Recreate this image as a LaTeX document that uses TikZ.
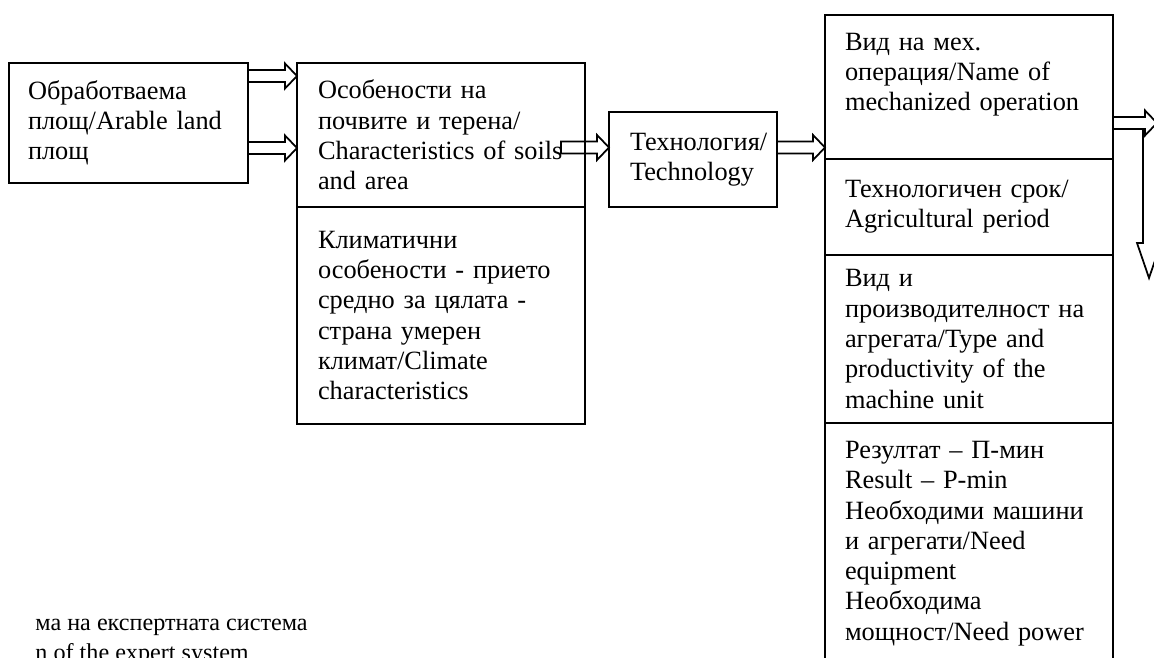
\documentclass[tikz,border=0pt]{standalone}
\usepackage{fontspec}
\setmainfont{Liberation Serif}
\usetikzlibrary{positioning}
\newdimen\pxu
\pxu=0.016cm

\begin{document}
\begin{tikzpicture}[
        x = 0.016cm, y = -0.016cm,
        Part/.style = {rectangle, draw = black, thick, outer sep = 0pt, inner ysep = 0pt, align = left, font = \fontsize{12}{13.8}\selectfont},
        % 
        Arrow/.style = {draw = black, thick, to path = {([yshift = 6\pxu]\tikztostart) -- ([xshift = -12\pxu, yshift = 6\pxu]\tikztotarget) -- ([xshift = -12\pxu, yshift = 12.5\pxu]\tikztotarget) -- (\tikztotarget) -- ([xshift = -12\pxu, yshift = -12.5\pxu]\tikztotarget) -- ([xshift = -12\pxu, yshift = -6\pxu]\tikztotarget) -- ([yshift = -6\pxu]\tikztostart) -- cycle}},
        % 
        DownArrow/.style = {draw = black, thick, to path = {([xshift = -6\pxu]\tikztostart) -- ([xshift = -6\pxu, yshift = 35\pxu]\tikztotarget) -- ([xshift = -12\pxu, yshift = 35\pxu]\tikztotarget) -- (\tikztotarget) -- ([xshift = 12\pxu, yshift = 35\pxu]\tikztotarget) -- ([xshift = 6\pxu, yshift = 35\pxu]\tikztotarget) -- ([xshift = 6\pxu]\tikztostart)}},
        % 
        Caption/.style = {inner sep = 0pt, align = left, font = \fontsize{11}{13.6}\selectfont},
    ]
        \useasboundingbox (0,0) rectangle (1154,658);
        \clip (0,0) rectangle (1154,658);

        % Arable land
        \node[Part, anchor = north west, text width = 201\pxu, inner xsep = 19\pxu, minimum height = 120\pxu] (Arable) at (9,63) {Обработваема\\площ/Arable land\\площ};

        % Soils and climate
        \node[Part, anchor = north west, text width = 246\pxu, inner xsep = 21\pxu, minimum height = 144\pxu] (Soils) at (297,63) {Особености на\\почвите и терена/\\Characteristics of soils\\and area};
        \node[Part, text width = 246\pxu, inner xsep = 21\pxu, minimum height = 217\pxu] (Climate) [below = 0pt of Soils] {Климатични\\особености - прието\\средно за цялата -\\страна умерен\\климат/Climate\\characteristics};

        % Technology
        \node[Part, anchor = north west, text width = 126\pxu, inner xsep = 21\pxu, minimum height = 95\pxu] (Tech) at (609,112) {Технология/\\Technology};

        % Operation
        \node[Part, anchor = north west, text width = 248\pxu, inner xsep = 20\pxu, minimum height = 144\pxu] (Mech) at (825,15) {Вид на мех.\\операция/Name of\\mechanized operation\\\mbox{}};
        \node[Part, text width = 248\pxu, inner xsep = 20\pxu, minimum height = 96\pxu] (Period) [below = 0pt of Mech] {Технологичен срок/\\Agricultural period};
        \node[Part, text width = 248\pxu, inner xsep = 20\pxu, minimum height = 168\pxu] (Unit) [below = 0pt of Period] {Вид и\\производителност на\\агрегата/Type and\\productivity of the\\machine unit};
        \node[Part, text width = 248\pxu, inner xsep = 20\pxu, minimum height = 241\pxu] (Result) [below = 0pt of Unit] {Резултат – П-мин\\Result – P-min\\Необходими машини\\и агрегати/Need\\equipment\\Необходима\\мощност/Need power};

        % Caption
        \node[Caption, anchor = north west] (Caption) at (35,619) {ма на експертната система\\n of the expert system};

        \coordinate (OffRight) at (1157,123);
        \coordinate (Turn) at (1149,129);
        \coordinate (OffDown) at (1149,278);

        % Arrows
        \draw[Arrow] ([yshift = -13\pxu]Arable.north east) to ([yshift = -13\pxu]Soils.north west);
        \draw[Arrow] ([yshift = -85\pxu]Arable.north east) to ([yshift = -85\pxu]Soils.north west);
        \draw[Arrow] ([xshift = -24\pxu, yshift = -12.5\pxu]Soils.east) to ([yshift = 12\pxu]Tech.west);
        \draw[Arrow] ([yshift = 12\pxu]Tech.east) to ([yshift = -60.5\pxu]Mech.west);
        \draw[Arrow] ([yshift = -36\pxu]Mech.east) to (OffRight);
        \draw[DownArrow] (Turn) to (OffDown);

    \end{tikzpicture}
\end{document}
